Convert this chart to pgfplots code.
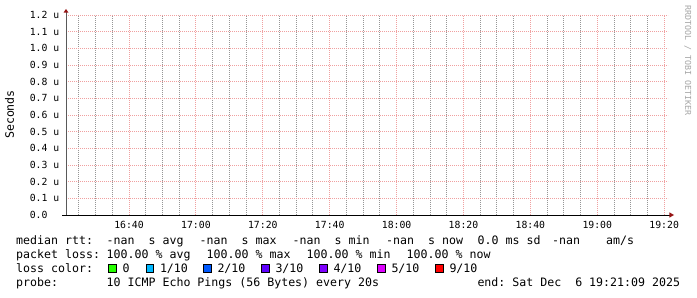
\documentclass[border=0pt]{standalone}
\usepackage{fontspec}
\setmainfont{DejaVu Sans Mono}[WordSpace={1,0,0}]
\usepackage{pgfplots}
\pgfplotsset{compat=1.18}
\definecolor{mgrid}{RGB}{240,160,160}
\definecolor{mingrid}{RGB}{150,150,150}
\definecolor{arrowc}{RGB}{150,20,20}
\definecolor{l0}{RGB}{38,255,0}
\definecolor{l1}{RGB}{0,184,255}
\definecolor{l2}{RGB}{0,89,255}
\definecolor{l3}{RGB}{94,0,255}
\definecolor{l4}{RGB}{126,0,255}
\definecolor{l5}{RGB}{221,0,255}
\definecolor{l9}{RGB}{255,0,0}
\newcommand{\lgf}{\fontsize{11.6bp}{14bp}\selectfont}
\begin{document}
\begin{tikzpicture}[x=1bp,y=1bp]
\useasboundingbox (0,0) rectangle (697,297);
\fill[white] (0,0) rectangle (697,297);
\begin{axis}[
  at={(66bp,82bp)}, anchor=south west, scale only axis,
  width=602bp, height=200bp,
  xmin=21.15, xmax=201.15, ymin=0, ymax=1.2,
  xtick={40,60,80,100,120,140,160,180,200},
  xticklabels={16:40,17:00,17:20,17:40,18:00,18:20,18:40,19:00,19:20},
  minor xtick={25,30,35,45,50,55,65,70,75,85,90,95,105,110,115,125,130,135,145,150,155,165,170,175,185,190,195},
  ytick={0,0.1,0.2,0.3,0.4,0.5,0.6,0.7,0.8,0.9,1.0,1.1,1.2},
  yticklabels={0.0\hphantom{~u},0.1~u,0.2~u,0.3~u,0.4~u,0.5~u,0.6~u,0.7~u,0.8~u,0.9~u,1.0~u,1.1~u,1.2~u},
  xmajorgrids, ymajorgrids, xminorgrids,
  major grid style={mgrid, dash pattern=on 1bp off 1bp, line width=0.9bp},
  minor grid style={mingrid, dash pattern=on 1bp off 1bp, line width=1bp},
  axis line style={draw=none},
  major tick style={draw=none}, minor tick style={draw=none},
  tick label style={font=\fontsize{9.8bp}{10bp}\selectfont, text=black},
  yticklabel style={anchor=east, inner sep=0pt, xshift=-6.5bp},
  xticklabel style={anchor=north, inner sep=0pt, yshift=-6bp},
]
\end{axis}
% axis lines
\draw[black!65, line width=1bp] (66,82) -- (66,284.5);
\fill[arrowc] (63.5,284.3) -- (66,288) -- (68.5,284.3) -- cycle;
\draw[black, line width=1bp] (62,82) -- (669.5,82);
\fill[arrowc] (669.3,84.7) -- (674,82) -- (669.3,79.3) -- cycle;
% axis title and watermark
\node[rotate=90, anchor=base, inner sep=0pt] at (13.8,182.5) {\lgf Seconds};
\node[rotate=-90, anchor=base west, inner sep=0pt, text=black!35] at (685,292) {\fontsize{8.3bp}{9bp}\selectfont RRDTOOL~/~TOBI~OETIKER};
% legend line 1
\begin{scope}[every node/.style={anchor=base west, inner sep=0pt}]
\node at (16,52.5) {\lgf median~rtt:};
\node at (106.5,52.5) {\lgf -nan~~s~avg};
\node at (199.5,52.5) {\lgf -nan~~s~max};
\node at (292.5,52.5) {\lgf -nan~~s~min};
\node at (386,52.5) {\lgf -nan~~s~now};
\node at (477.5,52.5) {\lgf 0.0~ms~sd};
\node at (552,52.5) {\lgf -nan};
\node at (606,52.5) {\lgf am/s};
% line 2
\node at (16,38.5) {\lgf packet~loss:};
\node at (106.5,38.5) {\lgf 100.00~\%~avg};
\node at (206.5,38.5) {\lgf 100.00~\%~max};
\node at (306.5,38.5) {\lgf 100.00~\%~min};
\node at (406.5,38.5) {\lgf 100.00~\%~now};
% line 3
\node at (16,24.5) {\lgf loss~color:};
\foreach \xx/\cc in {108.5/l0,146/l1,203.5/l2,261.5/l3,319.5/l4,377.5/l5,435.5/l9}{
  \filldraw[fill=\cc, draw=black, line width=0.9bp] (\xx,25) rectangle ++(7.5,7.5);
}
\node at (122.3,24.5) {\lgf 0};
\node at (159.8,24.5) {\lgf 1/10};
\node at (217.3,24.5) {\lgf 2/10};
\node at (275.3,24.5) {\lgf 3/10};
\node at (333.3,24.5) {\lgf 4/10};
\node at (391.3,24.5) {\lgf 5/10};
\node at (449.3,24.5) {\lgf 9/10};
% line 4
\node at (16,10.5) {\lgf probe:};
\node at (106.5,10.5) {\lgf 10~ICMP~Echo~Pings~(56~Bytes)~every~20s};
\node at (477.3,10.5) {\lgf end:~Sat~Dec~~6~19:21:09~2025};
\end{scope}
\end{tikzpicture}
\end{document}
